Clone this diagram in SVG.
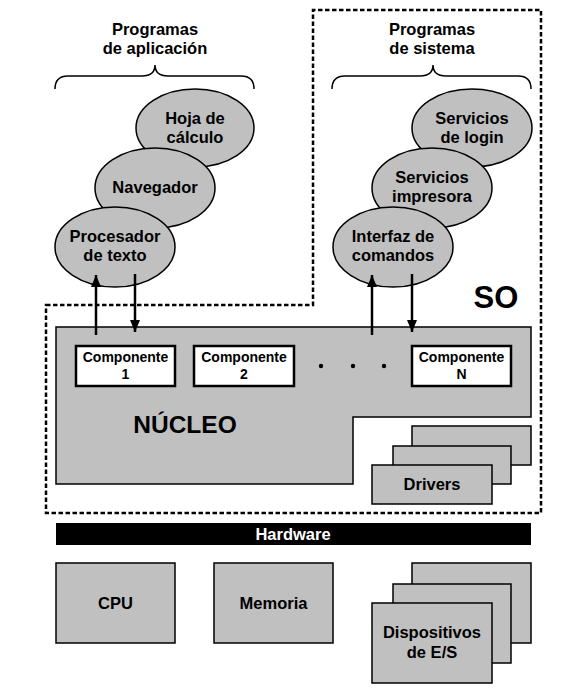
<svg xmlns="http://www.w3.org/2000/svg" width="564" height="692" viewBox="0 0 564 692">
<defs>
<style>
text{font-family:"Liberation Sans",Arial,sans-serif;font-weight:bold;fill:#000;text-anchor:middle}
.lbl{font-size:16.5px}
.cmp{font-size:14px}
.g{fill:#c0c0c0;stroke:#000;stroke-width:1.5}
.w{fill:#fff;stroke:#000;stroke-width:2.5}
.br{fill:none;stroke:#000;stroke-width:1.5}
.ar{fill:none;stroke:#000;stroke-width:2.5}
</style>
<marker id="ah" viewBox="0 0 12 10" refX="12" refY="5" markerWidth="12" markerHeight="10" markerUnits="userSpaceOnUse" orient="auto">
<path d="M0,0 L12,5 L0,10 Z" fill="#000"/>
</marker>
</defs>
<rect width="564" height="692" fill="#fff"/>

<g id="so-boundary">
<path d="M46,305 H313 V10 H541 V513 H46 Z" fill="none" stroke="#000" stroke-width="2.5" stroke-dasharray="4.5,2.5"/>
<text x="496" y="308" style="font-size:31px">SO</text>
</g>

<g id="titulo-aplicacion">
<text class="lbl" x="155" y="35">Programas</text>
<text class="lbl" x="155" y="54">de aplicación</text>
<path class="br" d="M55,89 Q55,76 68,76 H142 Q155,76 155,65 Q155,76 168,76 H241 Q254,76 254,89"/>
</g>

<g id="titulo-sistema">
<text class="lbl" x="432" y="35">Programas</text>
<text class="lbl" x="432" y="54">de sistema</text>
<path class="br" d="M332,89 Q332,76 345,76 H420 Q433,76 433,65 Q433,76 446,76 H518 Q531,76 531,89"/>
</g>

<g id="hoja-calculo">
<ellipse class="g" cx="195" cy="128" rx="59" ry="39"/>
<text class="lbl" x="195" y="124">Hoja de</text>
<text class="lbl" x="195" y="143">cálculo</text>
</g>
<g id="navegador">
<ellipse class="g" cx="155" cy="188" rx="60" ry="40"/>
<text class="lbl" x="155" y="193">Navegador</text>
</g>
<g id="procesador">
<ellipse class="g" cx="115" cy="247" rx="60" ry="40"/>
<text class="lbl" x="115" y="242">Procesador</text>
<text class="lbl" x="115" y="261">de texto</text>
</g>

<g id="servicios-login">
<ellipse class="g" cx="472" cy="128" rx="60" ry="39"/>
<text class="lbl" x="472" y="124">Servicios</text>
<text class="lbl" x="472" y="143">de login</text>
</g>
<g id="servicios-impresora">
<ellipse class="g" cx="432" cy="188" rx="60" ry="40"/>
<text class="lbl" x="432" y="183">Servicios</text>
<text class="lbl" x="432" y="202">impresora</text>
</g>
<g id="interfaz-comandos">
<ellipse class="g" cx="393" cy="247" rx="60" ry="40"/>
<text class="lbl" x="393" y="242">Interfaz de</text>
<text class="lbl" x="393" y="261">comandos</text>
</g>

<g id="nucleo">
<path class="g" d="M56,327 H531 V417 H353 V484 H56 Z"/>
<text x="185" y="433" style="font-size:24.5px">NÚCLEO</text>
<circle cx="321" cy="366" r="2.2" fill="#000"/>
<circle cx="353" cy="366" r="2.2" fill="#000"/>
<circle cx="384" cy="366" r="2.2" fill="#000"/>
</g>

<g id="componente-1">
<rect class="w" x="76" y="346" width="99" height="40"/>
<text class="cmp" x="125.5" y="362">Componente</text>
<text class="cmp" x="125.5" y="379">1</text>
</g>
<g id="componente-2">
<rect class="w" x="194" y="346" width="100" height="40"/>
<text class="cmp" x="244" y="362">Componente</text>
<text class="cmp" x="244" y="379">2</text>
</g>
<g id="componente-n">
<rect class="w" x="412" y="346" width="99" height="40"/>
<text class="cmp" x="461.5" y="362">Componente</text>
<text class="cmp" x="461.5" y="379">N</text>
</g>

<g id="drivers">
<rect class="g" x="412" y="426" width="119" height="39"/>
<rect class="g" x="393" y="446" width="118" height="38"/>
<rect class="g" x="372" y="465" width="120" height="39"/>
<text class="lbl" x="432" y="490">Drivers</text>
</g>

<g id="hardware">
<rect x="56" y="523" width="475" height="22" fill="#000"/>
<text class="lbl" x="293" y="540" style="fill:#fff">Hardware</text>
</g>

<g id="cpu">
<rect class="g" x="56" y="563" width="119" height="80"/>
<text class="lbl" x="115.5" y="609">CPU</text>
</g>
<g id="memoria">
<rect class="g" x="214" y="563" width="119" height="80"/>
<text class="lbl" x="273.5" y="609">Memoria</text>
</g>
<g id="dispositivos">
<rect class="g" x="412" y="563" width="119" height="80"/>
<rect class="g" x="393" y="584" width="118" height="79"/>
<rect class="g" x="372" y="603" width="120" height="80"/>
<text class="lbl" x="432" y="638">Dispositivos</text>
<text class="lbl" x="432" y="658">de E/S</text>
</g>

<g id="connectors">
<line class="ar" x1="96" y1="335" x2="96" y2="275" marker-end="url(#ah)"/>
<line class="ar" x1="135" y1="274" x2="135" y2="332" marker-end="url(#ah)"/>
<line class="ar" x1="372" y1="335" x2="372" y2="275" marker-end="url(#ah)"/>
<line class="ar" x1="412" y1="274" x2="412" y2="332" marker-end="url(#ah)"/>
</g>
</svg>
